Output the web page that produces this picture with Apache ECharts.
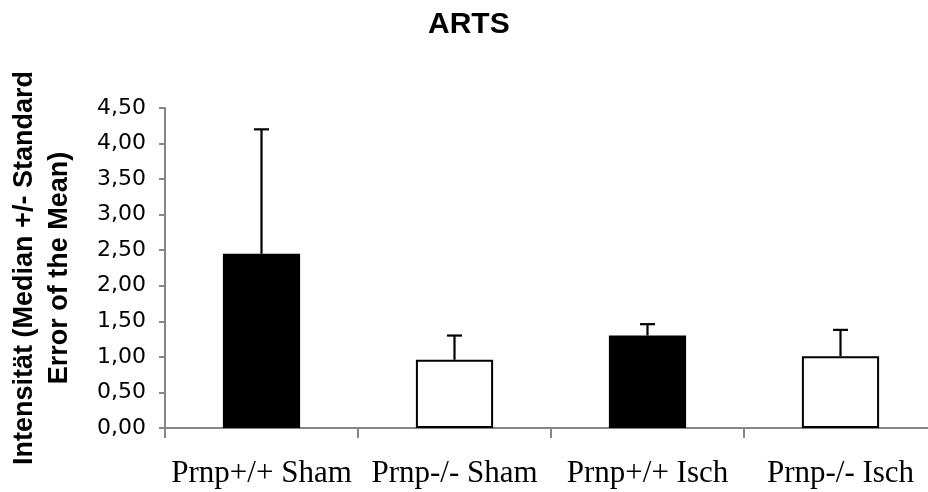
<!DOCTYPE html>
<html>
<head>
<meta charset="utf-8">
<title>ARTS</title>
<script src="https://cdn.jsdelivr.net/npm/echarts@6/dist/echarts.min.js"></script>
<style>
  html, body { margin: 0; padding: 0; background: #fff; }
  #chart { width: 928px; height: 492px; }
</style>
</head>
<body>
<div id="chart"></div>
<script>
// Groups on the category axis
const categories = ['Prnp+/+ Sham', 'Prnp-/- Sham', 'Prnp+/+ Isch', 'Prnp-/- Isch'];
// Median intensity per group
const medians = [2.45, 0.96, 1.30, 1.01];
// Standard error of the mean (drawn upward only)
const sem = [1.75, 0.34, 0.16, 0.37];
// Y-axis tick values
const yTicks = [0, 0.5, 1, 1.5, 2, 2.5, 3, 3.5, 4, 4.5];

const chart = echarts.init(document.getElementById('chart'), null, { renderer: 'canvas' });

const axisGray = '#868686';
const sans = '"Liberation Sans", Arial, sans-serif';
const serif = '"Liberation Serif", "Times New Roman", serif';

// Wild-type groups are filled black, knock-out groups are open white bars
const fillFor = (name) => name.indexOf('+/+') >= 0 ? '#000000' : '#ffffff';

const option = {
  backgroundColor: '#ffffff',
  animation: false,
  title: {
    text: 'ARTS',
    left: 423,
    top: 5,
    textStyle: { fontFamily: sans, fontSize: 30, fontWeight: 'bold', color: '#000' }
  },
  // the last category slot runs slightly past the right edge of the canvas
  grid: { left: 165, width: 772, top: 108, height: 320, containLabel: false, outerBoundsMode: 'none' },
  xAxis: {
    type: 'category',
    data: categories,
    boundaryGap: true,
    axisLine: { show: true, lineStyle: { color: axisGray, width: 2 } },
    axisTick: { show: true, length: 10, interval: 0, alignWithLabel: false, lineStyle: { color: axisGray, width: 2 } },
    axisLabel: { interval: 0, margin: 30, color: '#000', fontFamily: serif, fontSize: 31 },
    splitLine: { show: false }
  },
  yAxis: {
    type: 'value',
    min: yTicks[0],
    max: yTicks[yTicks.length - 1],
    interval: 0.5,
    name: 'Intensität (Median +/- Standard\nError of the Mean)',
    nameLocation: 'middle',
    nameGap: 88,
    nameTextStyle: { fontFamily: sans, fontSize: 27, fontWeight: 'bold', color: '#000', lineHeight: 35 },
    axisLine: { show: true, lineStyle: { color: axisGray, width: 2 } },
    axisTick: { show: true, length: 6, lineStyle: { color: axisGray, width: 2 } },
    axisLabel: {
      margin: 19,
      color: '#000',
      fontFamily: '"DejaVu Sans", sans-serif',
      fontSize: 22,
      formatter: (v) => v.toFixed(2).replace('.', ',')
    },
    splitLine: { show: false }
  },
  series: [
    {
      type: 'bar',
      barWidth: '40%',
      data: medians.map((v, i) => ({
        value: v,
        itemStyle: { color: fillFor(categories[i]), borderColor: '#000', borderWidth: 2 }
      })),
      z: 2
    },
    {
      // Upper error whisker with a short horizontal cap
      type: 'custom',
      z: 3,
      data: medians.map((v, i) => [i, v, v + sem[i]]),
      renderItem: function (params, api) {
        const base = api.coord([api.value(0), api.value(1)]);
        const top = api.coord([api.value(0), api.value(2)]);
        const half = 7.5;
        const style = { stroke: '#000', lineWidth: 2.2, fill: null };
        return {
          type: 'group',
          children: [
            { type: 'line', shape: { x1: base[0], y1: base[1], x2: top[0], y2: top[1] }, style: style },
            { type: 'line', shape: { x1: top[0] - half, y1: top[1], x2: top[0] + half, y2: top[1] }, style: style }
          ]
        };
      }
    }
  ]
};

chart.setOption(option);
</script>
</body>
</html>
